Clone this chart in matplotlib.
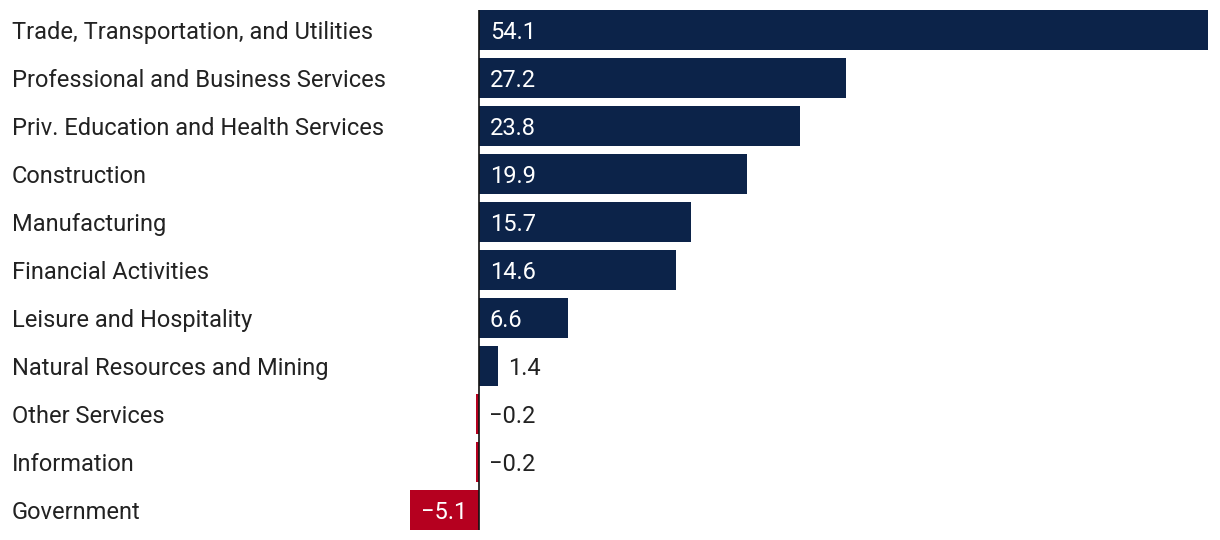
import matplotlib.pyplot as plt
import matplotlib.transforms as mtransforms

categories = ["Trade, Transportation, and Utilities", "Professional and Business Services",
              "Priv. Education and Health Services", "Construction", "Manufacturing",
              "Financial Activities", "Leisure and Hospitality", "Natural Resources and Mining",
              "Other Services", "Information", "Government"]
values = [54.1, 27.2, 23.8, 19.9, 15.7, 14.6, 6.6, 1.4, -0.2, -0.2, -5.1]

navy = "#0c2349"
red = "#b5001f"
dark = "#222222"

plt.rcParams['font.family'] = ['Roboto', 'DejaVu Sans']

W, H = 1220, 540
fig = plt.figure(figsize=(W / 100, H / 100), dpi=100)
ax = fig.add_axes([0, 0, 1, 1])

zero_px, end_px = 479, 1208
scale = (end_px - zero_px) / max(values)
ax.set_xlim(-zero_px / scale, (W - zero_px) / scale)
pitch, top = 48, 30
ax.set_ylim((H - top) / pitch, -top / pitch)
h = 40 / pitch

n = len(values)
y = list(range(n))
colors = [navy if v >= 0 else red for v in values]
ax.barh(y, values, height=h, color=colors)
ax.vlines(0, -h / 2, n - 1 + h / 2, color="#111111", lw=1.2, zorder=3)

fs = 17
lab = mtransforms.blended_transform_factory(fig.transFigure, ax.transData)
for i, name in enumerate(categories):
    ax.text(12 / W, i, name, transform=lab, ha="left", va="center_baseline",
            fontsize=fs, color=dark)

px = 1 / scale
for i, v in enumerate(values):
    s = f"{v:.1f}".replace("-", "\u2212")
    if abs(v) * scale > 60:
        x0 = min(v, 0) + 11 * px
        ax.text(x0, i, s, ha="left", va="center_baseline", fontsize=fs, color="white")
    else:
        x0 = max(v, 0) + 10 * px
        ax.text(x0, i, s, ha="left", va="center_baseline", fontsize=fs, color=dark)

ax.axis("off")
fig.savefig("out.png", dpi=100)
